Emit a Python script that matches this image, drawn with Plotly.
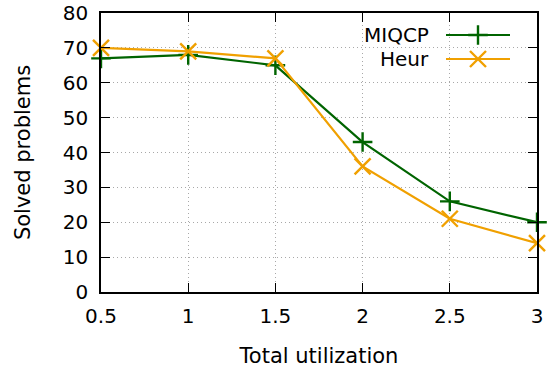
import plotly.graph_objects as go

utilization = [0.5, 1, 1.5, 2, 2.5, 3]
miqcp = [67, 68, 65, 43, 26, 20]
heur = [70, 69, 67, 36, 21, 14]
x_ticks = [0.5, 1, 1.5, 2, 2.5, 3]
x_tick_labels = ["0.5", "1", "1.5", "2", "2.5", "3"]
y_ticks = [0, 10, 20, 30, 40, 50, 60, 70, 80]

GREEN = "#006400"
ORANGE = "#F0A000"
FONT = "DejaVu Sans"

fig = go.Figure()
fig.add_trace(go.Scatter(
    x=utilization, y=miqcp, mode="lines+markers", name="MIQCP",
    line=dict(color=GREEN, width=2.2),
    marker=dict(symbol="cross-thin", size=14, line=dict(color=GREEN, width=2.4)),
    showlegend=False, cliponaxis=False))
fig.add_trace(go.Scatter(
    x=utilization, y=heur, mode="lines+markers", name="Heur",
    line=dict(color=ORANGE, width=2.2),
    marker=dict(symbol="x-thin", size=16, line=dict(color=ORANGE, width=2.4)),
    showlegend=False, cliponaxis=False))

# Manual gnuplot-style legend (text right, sample left) on pixel-scaled overlay axes
legend_names = ["MIQCP", "Heur"]
legend_colors = [GREEN, ORANGE]
legend_symbols = ["cross-thin", "x-thin"]
legend_sizes = [14, 16]
legend_y = [35, 59]
for name, col, sym, sz, ly in zip(legend_names, legend_colors, legend_symbols, legend_sizes, legend_y):
    fig.add_trace(go.Scatter(
        x=[446, 510], y=[ly, ly], mode="lines", xaxis="x2", yaxis="y2",
        line=dict(color=col, width=2.2), showlegend=False, hoverinfo="skip"))
    fig.add_trace(go.Scatter(
        x=[478], y=[ly], mode="markers", xaxis="x2", yaxis="y2",
        marker=dict(symbol=sym, size=sz, line=dict(color=col, width=2.4)),
        showlegend=False, hoverinfo="skip", cliponaxis=False))
    fig.add_annotation(x=431, y=ly, xref="x2", yref="y2", text=name,
                       showarrow=False, xanchor="right", yanchor="middle",
                       font=dict(family=FONT, size=20, color="black"))

axis_common = dict(
    showline=True, linecolor="black", linewidth=1.5, mirror="allticks",
    ticks="inside", ticklen=9, tickwidth=1.2, tickcolor="black",
    showgrid=True, gridcolor="#a8a8a8", griddash="1px,3px", gridwidth=1,
    zeroline=False, automargin=False,
    tickfont=dict(family=FONT, size=20, color="black"),
)

fig.update_layout(
    width=557, height=372,
    margin=dict(l=101, r=20, t=13, b=80),
    paper_bgcolor="white", plot_bgcolor="white",
    font=dict(family=FONT, size=20, color="black"),
    xaxis=dict(range=[0.5, 3], tickvals=x_ticks, ticktext=x_tick_labels,
               ticklabelstandoff=5,
               title=dict(text="Total utilization", font=dict(family=FONT, size=21), standoff=22),
               **axis_common),
    yaxis=dict(range=[0, 80], tickvals=y_ticks, ticklabelstandoff=7,
               title=dict(text="Solved problems", font=dict(family=FONT, size=21), standoff=26),
               **axis_common),
    xaxis2=dict(range=[101, 537], overlaying="x", visible=False, anchor="y2"),
    yaxis2=dict(range=[292, 13], overlaying="y", visible=False, anchor="x2"),
)

fig.write_html("out.html", config={"displayModeBar": False},
               post_script="document.body.style.margin='0px';")
